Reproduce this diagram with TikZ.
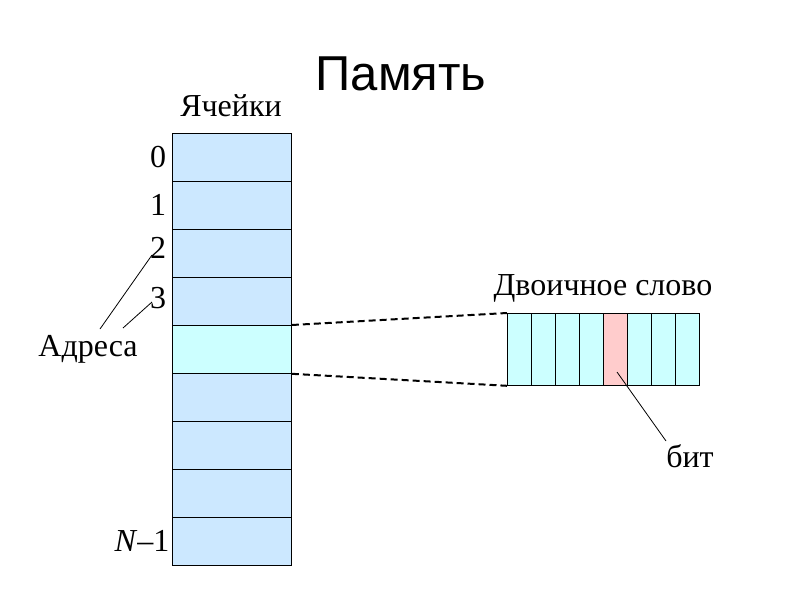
\documentclass[tikz,border=0pt]{standalone}
\usepackage{fontspec}
\setmainfont{Liberation Serif}
\newfontfamily\titlefont{Liberation Sans}
\definecolor{cellc}{HTML}{CCE8FF}
\definecolor{hic}{HTML}{CCFFFF}
\definecolor{bitc}{HTML}{FFCCCC}
\begin{document}
\begin{tikzpicture}[x=1pt,y=-1pt,
 cell/.style={draw,fill=cellc,line width=0.8pt},
 lbl/.style={font=\fontsize{32}{32}\selectfont,inner sep=0pt}]
\useasboundingbox (0,0) rectangle (800,600);
\foreach \i in {0,...,8}{
  \node[cell,minimum width=119pt,minimum height=48pt,anchor=north west,inner sep=0pt] (c\i) at (172,{133+48*\i}) {};
}
\fill[hic] (c4.north west) rectangle (c4.south east);
\draw[line width=0.8pt] (c4.north west) rectangle (c4.south east);
\foreach \i in {0,...,7}{
  \node[cell,fill=hic,minimum width=24pt,minimum height=72pt,anchor=north west,inner sep=0pt] (b\i) at ({507+24*\i},313) {};
}
\fill[bitc,draw=black,line width=0.8pt] (b4.north west) rectangle (b4.south east);
\node[font=\titlefont\fontsize{49}{49}\selectfont] (t) at (401,74) {Память};
\node[lbl] (ya) at (231,106) {Ячейки};
\node[lbl] (n0) at (158,157) {0};
\node[lbl] (n1) at (158,205) {1};
\node[lbl] (n2) at (158,248) {2};
\node[lbl] (n3) at (158,298) {3};
\node[lbl] (nN) at (142,541) {\textit{N}–1};
\node[lbl] (adr) at (88,349) {Адреса};
\node[lbl] (dw) at (603,288) {Двоичное слово};
\node[lbl] (bit) at (690,456) {бит};
\draw[line width=0.8pt] (100,329) -- (152,255);
\draw[line width=0.8pt] (123,328) -- (152,302);
\draw[dash pattern=on 7pt off 4pt,line width=2pt] (c4.north east) -- (b0.north west);
\draw[dash pattern=on 7pt off 4pt,line width=2pt] (c4.south east) -- (b0.south west);
\draw[line width=0.8pt] (617,372) -- (666,441);
\end{tikzpicture}
\end{document}
